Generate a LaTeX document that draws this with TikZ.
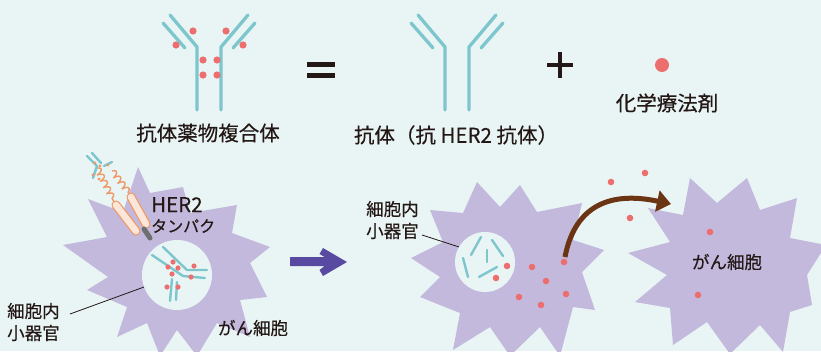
\documentclass[tikz,border=0pt]{standalone}
\usepackage{fontspec}
\setmainfont{Noto Sans CJK JP}[FakeBold=0.3]
\usetikzlibrary{arrows.meta,decorations.pathmorphing}
\definecolor{bg}{HTML}{E9F5F5}
\definecolor{cellc}{HTML}{C3B9DC}
\definecolor{abc}{HTML}{7DC6CD}
\definecolor{drug}{HTML}{EC6E6E}
\definecolor{ink}{HTML}{231815}
\definecolor{arrowblue}{HTML}{584AA0}
\definecolor{brownc}{HTML}{6B3412}
\definecolor{her}{HTML}{EE9A68}
\definecolor{herfill}{HTML}{FBE6D8}
\definecolor{anchorgray}{HTML}{6E7070}
\begin{document}
\begin{tikzpicture}[x=1pt,y=-1pt,
  abline/.style={abc, line width=3.3pt, line cap=round, line join=round},
  frag/.style={abc, line width=2.4pt, line cap=round, line join=round},
  cell/.style={fill=cellc},
  organelle/.style={circle, fill=bg, inner sep=0pt},
  leader/.style={ink, line width=0.8pt},
  lblA/.style={font=\fontsize{20.5}{24}\selectfont, text=ink, inner sep=0pt},
  lblB/.style={font=\fontsize{17.5}{22}\selectfont, text=ink, inner sep=0pt},
  lblC/.style={font=\fontsize{16}{20}\selectfont, text=ink, inner sep=0pt},
  strand/.style={her, line width=1.4pt, decorate,
    decoration={coil, aspect=0.35, segment length=7pt, amplitude=3.2pt}},
  antibody/.pic={
    \draw[abline] (-39,15) -- (-12,47) -- (-12,110);
    \draw[abline] (39,15) -- (12,47) -- (12,110);
    \draw[abline] (-46,23) -- (-24,48);
    \draw[abline] (46,23) -- (24,48);
  }]
\fill[bg] (0,0) rectangle (821,351);
\clip (0,0) rectangle (821,351);

% ---------- top row: antibody-drug conjugate = antibody + drug ----------
\pic at (209,0) {antibody};
\foreach \p in {(193,31),(176,45),(226,31),(243,45),(203,60),(217,60),(203,75),(217,75)}
  \fill[drug] \p circle (3.6);
\node[lblA] (adcL) at (208,133) {抗体薬物複合体};

\fill[ink] (307,62) rectangle (335,66.5);
\fill[ink] (307,73) rectangle (335,77.5);

\pic at (457,0) {antibody};
\node[lblA] (abL) at (456,135) {抗体（抗 HER2 抗体）};

\fill[ink] (546.5,63) rectangle (572.5,67);
\fill[ink] (557.5,52) rectangle (561.5,78);

\fill[drug] (662,65) circle (7);
\node[lblA] (drugL) at (667,103) {化学療法剤};

% ---------- left cancer cell ----------
\fill[cell] (138,167) -- (150,193) -- (183,187) -- (190,213) -- (237,205) -- (232,233)
  -- (270,247) -- (250,263) -- (267,297) -- (240,300) -- (250,337) -- (217,323)
  -- (197,356) -- (177,330) -- (160,356) -- (147,323) -- (117,337) -- (127,307)
  -- (87,290) -- (108,277) -- (63,245) -- (107,237) -- (88,199) -- (123,212) -- cycle;

% HER2 receptor with bound conjugate
\draw[strand] (97,168) -- (115,204);
\draw[strand] (112,171) -- (131,196);
\draw[her, line width=9pt, line cap=round] (116,205) -- (136,231);
\draw[herfill, line width=6.6pt, line cap=round] (116,205) -- (136,231);
\draw[her, line width=9pt, line cap=round] (131,197) -- (146,224);
\draw[herfill, line width=6.6pt, line cap=round] (131,197) -- (146,224);
\draw[frag] (87,156) -- (97,166) -- (93,178);
\draw[frag] (92,153) -- (101,163);
\draw[frag] (104,166) -- (112,162);
\foreach \p in {(95,163),(100,166),(108,165),(93,175),(99,179)}
  \fill[her] \p circle (1.6);
\draw[anchorgray, line width=5pt, line cap=round] (144,229) -- (150,238);

\node[organelle, minimum size=70pt] (orgL) at (177,275) {};
\draw[frag] (163,247) -- (187,270) -- (207,270);
\draw[frag] (152,255) -- (183,276) -- (205,278);
\draw[frag] (172,279) -- (170,301);
\draw[frag] (177,282) -- (176,300);
\foreach \p in {(168,267),(173,262),(178,268),(172,274),(194,266),(191,277),(167,287),(178,287)}
  \fill[drug] \p circle (2.6);

\node[lblC, align=left, anchor=west] (her2L) at (151,215)
  {{\fontsize{20.5}{20}\selectfont HER2}\\タンパク};
\node[lblB, align=left, anchor=west] (orgTxtL) at (7,322) {細胞内\\小器官};
\coordinate (leadL) at (70,314);
\draw[leader] (leadL) -- (orgL.200);
\node[lblB] (cancerL) at (253,328) {がん細胞};

% ---------- blue arrow ----------
\fill[arrowblue] (290,257) -- (324.6,257) -- (319.5,254) -- (323,248) -- (347,262)
  -- (323,276) -- (319.5,270) -- (324.6,266) -- (290,266) -- cycle;

% ---------- middle cancer cell ----------
\fill[cell] (477,182) -- (500,207) -- (520,185) -- (537,212) -- (582,203) -- (573,240)
  -- (604,250) -- (582,272) -- (595,310) -- (573,307) -- (560,356) -- (540,327)
  -- (510,356) -- (490,327) -- (453,350) -- (460,313) -- (420,297) -- (440,277)
  -- (411,258) -- (443,242) -- (430,210) -- (463,213) -- cycle;

\node[organelle, minimum size=60pt] (orgM) at (485,262) {};
\draw[frag] (481,237) -- (471,255);
\draw[frag] (492,240) -- (503,256);
\draw[frag] (487,250) -- (487,262);
\draw[frag] (463,258) -- (468,277);
\draw[frag] (479,277) -- (497,267);
\foreach \p in {(507,266),(496,278),(532,267),(546,281),(519,297),(541,305),(564,262),(566,294)}
  \fill[drug] \p circle (3.3);

\node[lblB, align=left, anchor=west] (orgTxtM) at (366,220) {細胞内\\小器官};
\coordinate (leadM) at (422,235);
\draw[leader] (leadM) -- (orgM.150);

% ---------- right cancer cell ----------
\fill[cell] (648,208) -- (683,215) -- (690,178) -- (717,203) -- (747,178) -- (760,210)
  -- (797,198) -- (790,238) -- (826,245) -- (807,275) -- (812,305) -- (790,312)
  -- (783,352) -- (760,325) -- (730,354) -- (707,322) -- (673,345) -- (670,308)
  -- (635,302) -- (667,275) -- (628,253) -- (670,242) -- cycle;
\fill[drug] (710,232) circle (3.3);
\fill[drug] (698,295) circle (3.3);
\node[lblB] (cancerR) at (727,262) {がん細胞};

% released drug
\foreach \p in {(611,182),(645,173),(630,218)}
  \fill[drug] \p circle (3.3);

% ---------- bystander arrow ----------
\coordinate (brS) at (565,257);
\coordinate (brE) at (671,204);
\draw[brownc, line width=5pt, -{Triangle[length=14pt,width=21pt]}]
  (brS) .. controls (574,210) and (605,190) .. (brE);
\end{tikzpicture}
\end{document}
